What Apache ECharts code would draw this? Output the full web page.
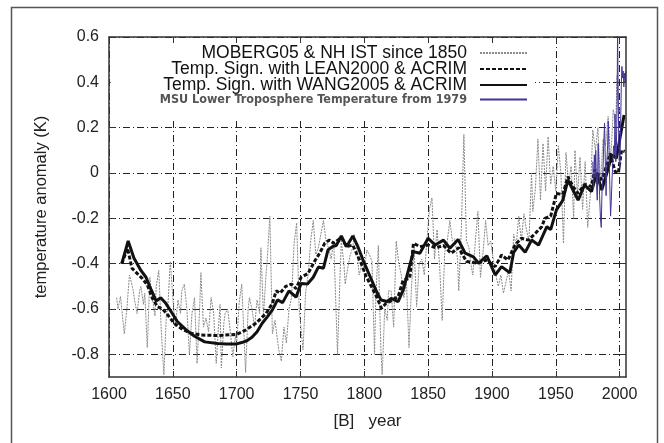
<!DOCTYPE html>
<html><head><meta charset="utf-8">
<script src="https://cdn.jsdelivr.net/npm/echarts@6/dist/echarts.min.js"></script>
<style>html,body{margin:0;padding:0;background:#fff}#c{width:664px;height:443px}</style>
</head><body><div id="c"></div>
<script>
const xTicks = [1600,1650,1700,1750,1800,1850,1900,1950,2000];
const yTicks = [-0.8,-0.6,-0.4,-0.2,0,0.2,0.4,0.6];
const names = [
  'MOBERG05 & NH IST since 1850',
  'Temp. Sign. with LEAN2000 & ACRIM',
  'Temp. Sign. with WANG2005 & ACRIM',
  'MSU Lower Troposphere Temperature from 1979'
];

const mobergYears = [1606,1607,1609,1612,1614,1616,1617,1619,1620,1622,1624,1625,1627,1628,1630,1632,1634,1636,1637,1639,1641,1643,1645,1646,1648,1650,1652,1654,1656,1657,1659,1661,1663,1665,1667,1669,1671,1672,1674,1676,1678,1680,1682,1684,1686,1687,1688,1690,1691,1693,1695,1697,1699,1700,1702,1704,1705,1707,1709,1710,1712,1714,1716,1718,1719,1721,1723,1724,1726,1728,1730,1733,1735,1737,1739,1741,1743,1745,1747,1749,1752,1754,1756,1758,1760,1762,1764,1766,1768,1770,1772,1774,1776,1777,1779,1781,1782,1784,1785,1787,1789,1791,1792,1794,1796,1798,1800,1802,1804,1806,1808,1809,1811,1812,1813,1814,1816,1818,1819,1821,1823,1825,1827,1829,1831,1833,1835,1837,1839,1841,1843,1845,1847,1849,1851,1853,1855,1857,1859,1861,1863,1865,1867,1869,1871,1873,1874,1876,1878,1880,1882,1884,1885,1887,1889,1891,1893,1895,1897,1899,1901,1903,1905,1907,1909,1911,1913,1915,1917,1919,1921,1923,1925,1927,1929,1931,1932,1934,1936,1938,1940,1942,1944,1946,1948,1950,1952,1954,1956,1958,1960,1962,1964,1965,1967,1969,1971,1973,1975,1977,1979,1981,1983,1985,1987,1989,1991,1993,1995,1997,1998,1999,2000];
const mobergValues = [-0.55,-0.60,-0.545,-0.71,-0.60,-0.45,-0.47,-0.52,-0.56,-0.62,-0.52,-0.50,-0.58,-0.53,-0.77,-0.46,-0.55,-0.63,-0.50,-0.43,-0.70,-0.89,-0.62,-0.60,-0.39,-0.55,-0.68,-0.56,-0.62,-0.52,-0.49,-0.60,-0.80,-0.62,-0.55,-0.84,-0.60,-0.44,-0.68,-0.64,-0.70,-0.55,-0.62,-0.84,-0.66,-0.58,-0.86,-0.66,-0.62,-0.60,-0.70,-0.81,-0.72,-0.75,-0.57,-0.49,-0.62,-0.88,-0.60,-0.55,-0.60,-0.68,-0.56,-0.62,-0.33,-0.63,-0.45,-0.38,-0.19,-0.71,-0.65,-0.78,-0.83,-0.68,-0.75,-0.60,-0.55,-0.31,-0.22,-0.60,-0.78,-0.53,-0.45,-0.30,-0.21,-0.36,-0.33,-0.27,-0.21,-0.30,-0.33,-0.38,-0.30,-0.46,-0.80,-0.45,-0.30,-0.40,-0.49,-0.42,-0.36,-0.33,-0.27,-0.33,-0.45,-0.40,-0.42,-0.34,-0.36,-0.39,-0.80,-0.55,-0.32,-0.58,-0.78,-0.89,-0.60,-0.65,-0.52,-0.52,-0.68,-0.30,-0.40,-0.45,-0.55,-0.48,-0.77,-0.50,-0.33,-0.59,-0.40,-0.38,-0.45,-0.30,-0.16,-0.11,-0.38,-0.25,-0.41,-0.65,-0.35,-0.30,-0.21,-0.30,-0.29,-0.38,-0.52,-0.25,0.17,-0.30,-0.33,-0.42,-0.45,-0.30,-0.17,-0.46,-0.35,-0.21,-0.32,-0.30,-0.38,-0.45,-0.50,-0.45,-0.53,-0.48,-0.43,-0.52,-0.27,-0.32,-0.19,-0.30,-0.18,-0.25,-0.30,0.0,-0.17,-0.07,0.15,-0.12,0.13,-0.08,0.16,-0.05,0.03,-0.08,0.12,0.0,-0.31,0.09,-0.05,0.03,-0.20,0.10,-0.10,0.07,-0.16,0.05,-0.24,-0.10,0.19,0.10,0.20,-0.05,0.15,0.12,0.25,0.05,0.28,0.22,0.43,0.30,0.27];

const leanYears = [1610,1614.5,1618,1622,1626,1630,1634,1638,1642,1646,1651,1657.5,1664,1672,1685,1700,1707,1715,1723,1728,1731,1734,1738.5,1743,1746.5,1750.5,1756,1761,1765,1769,1772.7,1776,1782,1786,1791,1795,1797.5,1801.5,1805.5,1809.5,1813.5,1817,1820,1826.5,1830.5,1835.5,1838.5,1843.5,1850,1856,1862,1868,1874,1880,1889,1896,1902.5,1907.5,1912.5,1918,1923,1928.5,1934,1939,1941.5,1946,1950.5,1955.5,1959.5,1963.5,1967.5,1972.5,1978,1980.5,1986,1990,1992.5,1996.5,1999,2001.5,2004];
const leanValues = [-0.40,-0.332,-0.42,-0.443,-0.465,-0.494,-0.553,-0.59,-0.60,-0.626,-0.663,-0.69,-0.707,-0.715,-0.717,-0.712,-0.693,-0.663,-0.62,-0.575,-0.52,-0.53,-0.50,-0.49,-0.51,-0.46,-0.443,-0.39,-0.354,-0.31,-0.296,-0.31,-0.284,-0.325,-0.318,-0.369,-0.398,-0.457,-0.50,-0.545,-0.597,-0.575,-0.567,-0.545,-0.472,-0.465,-0.31,-0.325,-0.318,-0.33,-0.32,-0.354,-0.33,-0.39,-0.398,-0.384,-0.413,-0.362,-0.384,-0.318,-0.288,-0.296,-0.266,-0.237,-0.20,-0.19,-0.09,-0.095,-0.016,-0.06,-0.09,-0.05,-0.06,0.015,-0.03,0.035,0.087,0.006,0.0,0.10,0.095];

const wangYears = [1610,1615,1619.5,1625,1629,1633,1637,1640.5,1644.5,1648.5,1653.5,1660,1667,1675,1685,1692,1700,1704,1708,1712,1716,1720,1724,1728,1732,1736,1741,1746.5,1750.5,1755.5,1760,1764,1768,1771.5,1775,1778,1782,1786,1791,1795,1799,1804,1809,1813,1818,1821,1826.5,1830.5,1834.5,1838.5,1843.5,1850,1855.5,1862,1867,1873.5,1879,1885.5,1889.5,1896,1902.5,1907.5,1914,1917,1921,1926,1931,1936.5,1943,1946,1950.5,1955.5,1959.5,1963.5,1967.5,1972.5,1978,1982,1986,1990,1994,1997.5,2000,2003.5];
const wangValues = [-0.40,-0.30,-0.375,-0.43,-0.46,-0.515,-0.565,-0.55,-0.575,-0.61,-0.655,-0.69,-0.72,-0.745,-0.752,-0.754,-0.754,-0.748,-0.74,-0.725,-0.70,-0.663,-0.635,-0.604,-0.56,-0.572,-0.52,-0.548,-0.487,-0.49,-0.46,-0.415,-0.42,-0.34,-0.325,-0.32,-0.278,-0.325,-0.278,-0.325,-0.384,-0.45,-0.516,-0.56,-0.567,-0.553,-0.567,-0.516,-0.43,-0.347,-0.354,-0.288,-0.318,-0.296,-0.332,-0.293,-0.354,-0.37,-0.398,-0.366,-0.45,-0.413,-0.44,-0.35,-0.318,-0.35,-0.296,-0.318,-0.237,-0.25,-0.163,-0.12,-0.031,-0.075,-0.12,-0.053,-0.082,0.0,-0.075,0.0,0.08,0.065,0.146,0.256];

const msuYears = [1979.0,1979.5,1980.2,1980.8,1981.3,1981.9,1982.5,1983.2,1983.7,1984.3,1985.0,1985.6,1986.2,1986.8,1987.5,1988.2,1988.8,1989.4,1990.0,1990.6,1991.1,1991.7,1992.3,1992.9,1993.5,1994.1,1994.7,1995.3,1995.9,1996.4,1997.0,1997.5,1998.0,1998.4,1998.8,1999.3,1999.8,2000.3,2000.8,2001.3,2001.8,2002.3,2002.8,2003.3,2003.8,2004.3,2004.8];
const msuValues = [0.05,-0.07,0.08,-0.02,0.10,-0.05,-0.12,0.13,0.05,-0.10,-0.20,-0.24,-0.08,-0.02,0.12,0.22,0.05,-0.10,0.05,0.12,0.23,0.10,-0.05,-0.19,-0.12,-0.02,0.05,0.12,0.08,0.26,0.05,0.12,0.30,0.63,0.40,0.15,0.05,0.02,0.22,0.38,0.47,0.42,0.45,0.38,0.44,0.40,0.45];

function pairs(xs, ys) { return xs.map((x, i) => [x, ys[i]]); }

const FONT = 'Liberation Sans, Arial, Helvetica, sans-serif';
const gridLine = { show: true, lineStyle: { color: '#222', width: 1, type: [7, 3, 1, 3] } };

const chart = echarts.init(document.getElementById('c'), null, { renderer: 'canvas' });
chart.setOption({
  animation: false,
  backgroundColor: '#fff',
  textStyle: { fontFamily: FONT },
  graphic: [{
    type: 'rect', z: 100, silent: true,
    shape: { x: 11.5, y: 7.5, width: 646, height: 450 },
    style: { fill: 'none', stroke: '#555', lineWidth: 1.5 }
  }],
  grid: { left: 109, top: 37, right: 38, bottom: 66, containLabel: false, outerBoundsMode: 'none',
          show: false },
  legend: {
    orient: 'vertical', align: 'right', right: 129, top: 38,
    padding: [6, 7, 13, 49], backgroundColor: '#fff', itemGap: -2,
    itemWidth: 47, itemHeight: 10,
    itemStyle: { opacity: 0 },
    textStyle: { fontFamily: FONT, fontSize: 17.5, color: '#111', lineHeight: 14.8, padding: [0, 8, 0, 0] },
    data: [
      { name: names[0] }, { name: names[1] }, { name: names[2] },
      { name: names[3], textStyle: { fontFamily: 'DejaVu Sans Condensed, sans-serif', fontWeight: 'bold', fontSize: 12.5, color: '#555' } }
    ]
  },
  xAxis: [{
    type: 'value', min: 1600, max: 2005,
    name: '[B]   year', nameLocation: 'middle', nameGap: 36,
    nameTextStyle: { fontFamily: FONT, fontSize: 17, color: '#222' },
    axisLine: { show: true, onZero: false, lineStyle: { color: '#333', width: 1.5 } },
    axisTick: { show: true, inside: true, length: 6, customValues: xTicks, lineStyle: { color: '#333' } },
    axisLabel: { customValues: xTicks, fontFamily: FONT, fontSize: 16, color: '#222', margin: 10,
                 formatter: v => String(v) },
    splitLine: gridLine
  }, {
    type: 'value', min: 1600, max: 2005, position: 'top', z: 10,
    axisLine: { show: true, onZero: false, lineStyle: { color: '#333', width: 1.5 } },
    axisTick: { show: true, inside: true, length: 6, customValues: xTicks, lineStyle: { color: '#333' } },
    axisLabel: { show: false }, splitLine: { show: false }
  }],
  yAxis: [{
    type: 'value', min: -0.9, max: 0.6,
    name: 'temperature anomaly (K)', nameLocation: 'middle', nameGap: 59,
    nameTextStyle: { fontFamily: FONT, fontSize: 16.5, color: '#222' },
    axisLine: { show: true, onZero: false, lineStyle: { color: '#333', width: 1.5 } },
    axisTick: { show: true, inside: true, length: 6, customValues: yTicks, lineStyle: { color: '#333' } },
    axisLabel: { customValues: yTicks, fontFamily: FONT, fontSize: 16, color: '#222', margin: 10,
                 formatter: v => (Math.abs(v) < 1e-9 ? '0' : v.toFixed(1)) },
    splitLine: gridLine
  }, {
    type: 'value', min: -0.9, max: 0.6, position: 'right', z: 10,
    axisLine: { show: true, onZero: false, lineStyle: { color: '#333', width: 1.5 } },
    axisTick: { show: true, inside: true, length: 6, customValues: yTicks, lineStyle: { color: '#333' } },
    axisLabel: { show: false }, splitLine: { show: false }
  }],
  series: [
    { name: names[0], type: 'line', symbol: 'none', data: pairs(mobergYears, mobergValues), z: 2,
      lineStyle: { color: '#8a8a8a', width: 1, type: [2, 1] }, itemStyle: { color: '#8a8a8a' } },
    { name: names[1], type: 'line', symbol: 'none', data: pairs(leanYears, leanValues), z: 3,
      lineStyle: { color: '#111', width: 3, type: [4, 2] }, itemStyle: { color: '#111' } },
    { name: names[2], type: 'line', symbol: 'none', data: pairs(wangYears, wangValues), z: 4,
      lineStyle: { color: '#111', width: 3 }, itemStyle: { color: '#111' } },
    { name: names[3], type: 'line', symbol: 'none', data: pairs(msuYears, msuValues), z: 5,
      lineStyle: { color: '#3f3596', width: 1 }, itemStyle: { color: '#3f3596' } }
  ]
});
</script></body></html>
